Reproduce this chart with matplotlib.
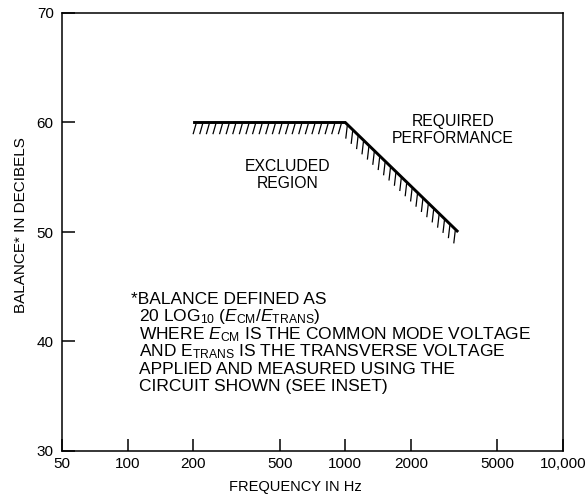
import numpy as np
import matplotlib
matplotlib.use("Agg")
import matplotlib.pyplot as plt
from matplotlib.collections import LineCollection

plt.rcParams['font.family'] = ['Liberation Sans', 'DejaVu Sans']
plt.rcParams['mathtext.fontset'] = 'custom'
plt.rcParams['mathtext.rm'] = 'Liberation Sans'
plt.rcParams['mathtext.it'] = 'Liberation Sans:italic'
plt.rcParams['mathtext.bf'] = 'Liberation Sans:bold'

# ---- data ----
freq_hz = [200, 1000, 3300]
balance_db = [60, 60, 50]
x_ticks = [50, 100, 200, 500, 1000, 2000, 5000, 10000]
x_tick_labels = ["50", "100", "200", "500", "1000", "2000", "5000", "10,000"]
y_ticks = [30, 40, 50, 60, 70]
note_lines = [
    "*BALANCE DEFINED AS",
    r"20 LOG$_{10}$ ($E_{\mathrm{CM}}/E_{\mathrm{TRANS}}$)",
    r"WHERE $E_{\mathrm{CM}}$ IS THE COMMON MODE VOLTAGE",
    r"AND $\mathrm{E}_{\mathrm{TRANS}}$ IS THE TRANSVERSE VOLTAGE",
    "APPLIED AND MEASURED USING THE",
    "CIRCUIT SHOWN (SEE INSET)",
]

W, H = 588, 495
fig = plt.figure(figsize=(W / 100, H / 100), dpi=100)
L, R, T, B = 62, 563, 13, 451
ax = fig.add_axes([L / W, 1 - B / H, (R - L) / W, (B - T) / H])
ax.set_xscale('log')
ax.set_xlim(50, 10000)
ax.set_ylim(30, 70)

for s in ax.spines.values():
    s.set_linewidth(1.1)
    s.set_color('black')

ax.set_xticks(x_ticks)
ax.set_xticklabels(x_tick_labels)
ax.xaxis.set_minor_locator(matplotlib.ticker.NullLocator())
ax.set_yticks(y_ticks)
ax.tick_params(axis='both', direction='in', length=9, width=1.1, labelsize=11,
               colors='black')
ax.tick_params(axis='x', pad=4)
ax.tick_params(axis='y', pad=6)

# main boundary line
ax.plot(freq_hz, balance_db, color='black', lw=2.1, solid_joinstyle='miter',
        solid_capstyle='butt', zorder=3)

# hatch marks below the boundary (computed in display space from the data line)
trans = ax.transData
pts = trans.transform(np.column_stack([freq_hz, balance_db]))
segs = []
for i in range(len(pts) - 1):
    p0, p1 = pts[i], pts[i + 1]
    flat = abs(p1[1] - p0[1]) < 1e-6
    vec = np.array([-3.0, -10.5]) if flat else np.array([-1.5, -13.0])
    spacing = 6.6 if flat else 5.4
    xs = np.arange(p0[0] + (3 if i == 0 else 2), p1[0] - 1, spacing)
    for x in xs:
        t = (x - p0[0]) / (p1[0] - p0[0])
        y = p0[1] + t * (p1[1] - p0[1])
        start = np.array([x, y - 1.2])
        end = start + vec
        segs.append(trans.inverted().transform(np.array([start, end])))
ax.add_collection(LineCollection(segs, colors='black', linewidths=0.9, zorder=2))

# annotations (pixel-based positions converted to axes fraction)
def ax_frac(px, py):
    return (px - L) / (R - L), (B - py) / (B - T)

x0, y0 = ax_frac(288, 175)
ax.text(x0, y0, "EXCLUDED\nREGION", transform=ax.transAxes, ha='center',
        va='center', fontsize=11.3, linespacing=1.15)
x0, y0 = ax_frac(453, 130)
ax.text(x0, y0, "REQUIRED\nPERFORMANCE", transform=ax.transAxes, ha='center',
        va='center', fontsize=11.3, linespacing=1.15)

line_y = [299, 317, 335, 352, 369, 386]
for i, (txt, py) in enumerate(zip(note_lines, line_y)):
    px = 131 if i == 0 else 139
    x0, y0 = ax_frac(px, py)
    ax.text(x0, y0, txt, transform=ax.transAxes, ha='left', va='center',
            fontsize=12.5)

ax.set_ylabel("BALANCE* IN DECIBELS", fontsize=11)
ax.yaxis.set_label_coords(*ax_frac(28, 225))
ax.set_xlabel("FREQUENCY IN Hz", fontsize=10.5)
ax.xaxis.set_label_coords(*ax_frac(295, 480))

fig.savefig("out.png", dpi=100)
